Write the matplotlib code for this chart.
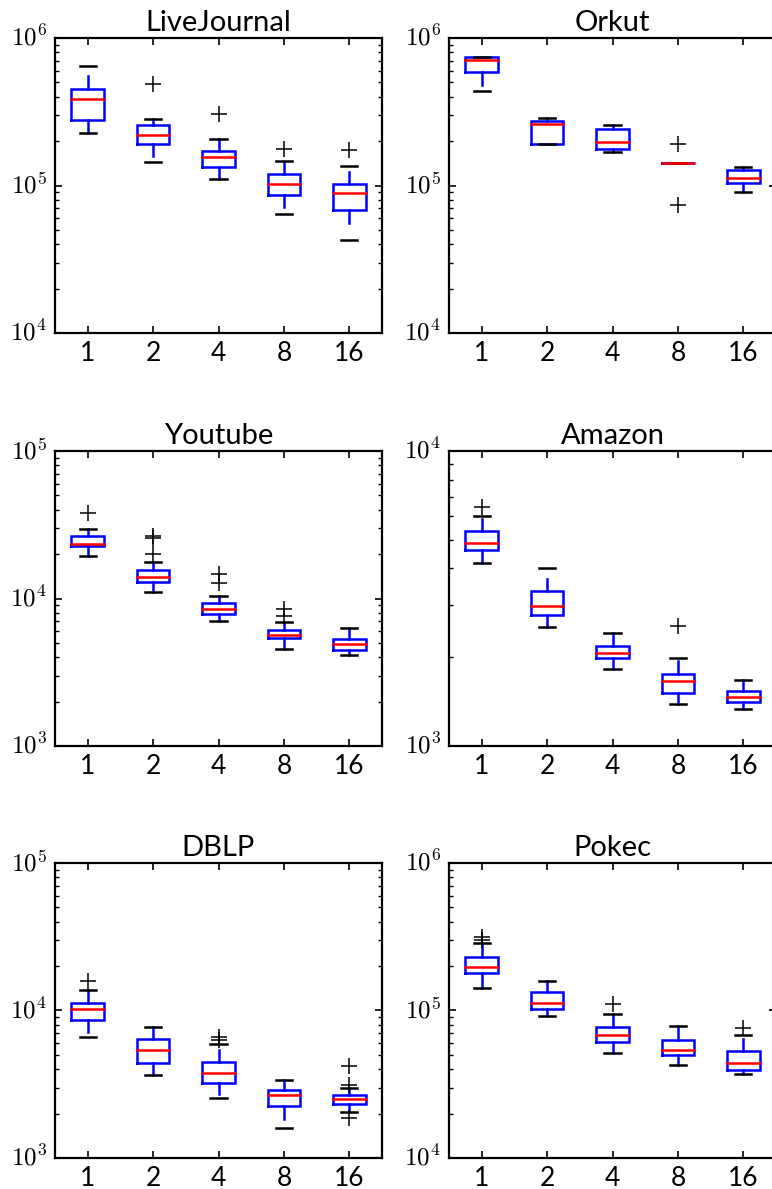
import matplotlib
matplotlib.use('Agg')
import matplotlib.pyplot as plt  # noqa
from matplotlib.ticker import FuncFormatter  # noqa
import numpy as np  # noqa

plt.style.use('classic')
plt.rcParams['mathtext.fontset'] = 'cm'

THREADS = ["1", "2", "4", "8", "16"]

# LiveJournal
LJ_Q1 = [2.79e5, 1.90e5, 1.33e5, 8.58e4, 6.79e4]
LJ_MED = [3.88e5, 2.19e5, 1.57e5, 1.03e5, 8.85e4]
LJ_Q3 = [4.53e5, 2.56e5, 1.71e5, 1.20e5, 1.02e5]
LJ_WLO = [2.27e5, 1.58e5, 1.11e5, 7.14e4, 5.60e4]
LJ_WHI = [5.50e5, 2.84e5, 2.06e5, 1.42e5, 1.24e5]
LJ_CLO = [2.27e5, 1.44e5, 1.11e5, 6.38e4, 4.28e4]
LJ_CHI = [6.49e5, 2.84e5, 2.06e5, 1.47e5, 1.36e5]
LJ_FLY = [[], [4.85e5], [3.03e5], [1.78e5], [1.73e5]]

# Orkut
OR_Q1 = [5.85e5, 1.91e5, 1.76e5, 1.43e5, 1.04e5]
OR_MED = [7.08e5, 2.62e5, 1.96e5, 1.43e5, 1.13e5]
OR_Q3 = [7.40e5, 2.74e5, 2.43e5, 1.43e5, 1.28e5]
OR_WLO = [4.80e5, 1.91e5, 1.69e5, 1.43e5, 9.08e4]
OR_WHI = [7.43e5, 2.86e5, 2.58e5, 1.43e5, 1.33e5]
OR_CLO = [4.39e5, 1.91e5, 1.69e5, 1.43e5, 9.08e4]
OR_CHI = [7.43e5, 2.86e5, 2.58e5, 1.43e5, 1.33e5]
OR_FLY = [[], [], [], [1.91e5, 7.38e4], []]

# Youtube
YT_Q1 = [2.26e4, 1.30e4, 7.80e3, 5.42e3, 4.47e3]
YT_MED = [2.34e4, 1.39e4, 8.53e3, 5.65e3, 4.88e3]
YT_Q3 = [2.64e4, 1.55e4, 9.27e3, 6.11e3, 5.33e3]
YT_WLO = [1.95e4, 1.10e4, 7.07e3, 4.52e3, 4.15e3]
YT_WHI = [2.97e4, 1.78e4, 1.04e4, 6.97e3, 6.27e3]
YT_CLO = [1.95e4, 1.10e4, 7.07e3, 4.52e3, 4.15e3]
YT_CHI = [2.97e4, 1.78e4, 1.04e4, 6.97e3, 6.27e3]
YT_FLY = [[3.81e4], [2.67e4, 2.58e4, 2.00e4], [1.47e4, 1.27e4],
          [8.49e3, 7.64e3], []]

# Amazon
AM_Q1 = [4.60e3, 2.78e3, 1.99e3, 1.51e3, 1.41e3]
AM_MED = [4.89e3, 2.99e3, 2.06e3, 1.66e3, 1.47e3]
AM_Q3 = [5.35e3, 3.34e3, 2.19e3, 1.76e3, 1.54e3]
AM_WLO = [4.16e3, 2.54e3, 1.82e3, 1.39e3, 1.33e3]
AM_WHI = [5.89e3, 3.67e3, 2.41e3, 1.94e3, 1.68e3]
AM_CLO = [4.16e3, 2.54e3, 1.82e3, 1.39e3, 1.33e3]
AM_CHI = [6.04e3, 4.02e3, 2.41e3, 1.99e3, 1.68e3]
AM_FLY = [[6.45e3], [], [], [2.56e3], []]

# DBLP
DB_Q1 = [8.66e3, 4.41e3, 3.24e3, 2.24e3, 2.34e3]
DB_MED = [1.03e4, 5.37e3, 3.79e3, 2.66e3, 2.51e3]
DB_Q3 = [1.12e4, 6.41e3, 4.48e3, 2.90e3, 2.66e3]
DB_WLO = [7.14e3, 3.67e3, 2.70e3, 1.85e3, 2.04e3]
DB_WHI = [1.38e4, 7.73e3, 5.42e3, 3.36e3, 2.99e3]
DB_CLO = [6.61e3, 3.67e3, 2.54e3, 1.60e3, 2.04e3]
DB_CHI = [1.38e4, 7.73e3, 5.90e3, 3.36e3, 2.99e3]
DB_FLY = [[1.58e4], [], [6.61e3, 6.30e3], [], [4.21e3, 3.11e3, 1.86e3]]

# Pokec
PK_Q1 = [1.79e5, 1.03e5, 6.12e4, 4.97e4, 3.93e4]
PK_MED = [1.97e5, 1.12e5, 6.79e4, 5.43e4, 4.41e4]
PK_Q3 = [2.31e5, 1.33e5, 7.69e4, 6.31e4, 5.31e4]
PK_WLO = [1.43e5, 9.12e4, 5.15e4, 4.30e4, 3.69e4]
PK_WHI = [2.88e5, 1.58e5, 9.42e4, 7.89e4, 6.44e4]
PK_CLO = [1.43e5, 9.12e4, 5.15e4, 4.30e4, 3.69e4]
PK_CHI = [2.88e5, 1.58e5, 9.42e4, 7.89e4, 6.86e4]
PK_FLY = [[3.15e5, 3.02e5], [], [1.10e5], [], [7.66e4]]

panels = [
    ("LiveJournal", (1e4, 1e6), LJ_Q1, LJ_MED, LJ_Q3, LJ_WLO, LJ_WHI, LJ_CLO, LJ_CHI, LJ_FLY),
    ("Orkut", (1e4, 1e6), OR_Q1, OR_MED, OR_Q3, OR_WLO, OR_WHI, OR_CLO, OR_CHI, OR_FLY),
    ("Youtube", (1e3, 1e5), YT_Q1, YT_MED, YT_Q3, YT_WLO, YT_WHI, YT_CLO, YT_CHI, YT_FLY),
    ("Amazon", (1e3, 1e4), AM_Q1, AM_MED, AM_Q3, AM_WLO, AM_WHI, AM_CLO, AM_CHI, AM_FLY),
    ("DBLP", (1e3, 1e5), DB_Q1, DB_MED, DB_Q3, DB_WLO, DB_WHI, DB_CLO, DB_CHI, DB_FLY),
    ("Pokec", (1e4, 1e6), PK_Q1, PK_MED, PK_Q3, PK_WLO, PK_WHI, PK_CLO, PK_CHI, PK_FLY),
]

W, H = 772, 1189
fig = plt.figure(figsize=(W / 100, H / 100), dpi=100, facecolor='w')

col_x = [55, 449]
row_top = [38, 451, 863]
aw, ah = 327, 295


def draw_box(ax, x, q1, med, q3, wlo, whi, clo, chi, fly):
    hw, cw = 0.25, 0.125
    ax.plot([x - hw, x + hw, x + hw, x - hw, x - hw], [q1, q1, q3, q3, q1],
            color='blue', lw=1.8, solid_joinstyle='miter')
    ax.plot([x, x], [q1, wlo], color='blue', lw=1.8)
    ax.plot([x, x], [q3, whi], color='blue', lw=1.8)
    ax.plot([x - cw, x + cw], [clo, clo], color='black', lw=1.8)
    ax.plot([x - cw, x + cw], [chi, chi], color='black', lw=1.8)
    ax.plot([x - hw, x + hw], [med, med], color='red', lw=1.8)
    if fly:
        ax.plot([x] * len(fly), fly, '+', color='black', ms=11, mew=1.1)


for k, (title, ylim, q1, med, q3, wlo, whi, clo, chi, fly) in enumerate(panels):
    r, c = divmod(k, 2)
    rect = [col_x[c] / W, 1 - (row_top[r] + ah) / H, aw / W, ah / H]
    ax = fig.add_axes(rect)
    ax.set_yscale('log')
    pos = np.arange(1, len(THREADS) + 1)
    for i, x in enumerate(pos):
        draw_box(ax, x, q1[i], med[i], q3[i], wlo[i], whi[i], clo[i], chi[i], fly[i])
    ax.set_xlim(0.5, 5.5)
    ax.set_ylim(*ylim)
    ax.set_xticks(pos)
    ax.set_xticklabels(THREADS, fontfamily='Lato', fontsize=19)
    ax.yaxis.set_major_formatter(FuncFormatter(
        lambda v, p: r'$10^{%d}$' % int(round(np.log10(v)))))
    ax.tick_params(axis='y', which='major', labelsize=18, pad=6)
    ax.tick_params(axis='x', which='major', pad=6)
    ax.tick_params(which='major', length=5, width=1.2)
    ax.tick_params(which='minor', length=3, width=1.0)
    for s in ax.spines.values():
        s.set_linewidth(1.6)
    ax.set_title(title, fontfamily='Lato', fontsize=21, pad=5)

fig.savefig('out.png', dpi=100, facecolor='w')
